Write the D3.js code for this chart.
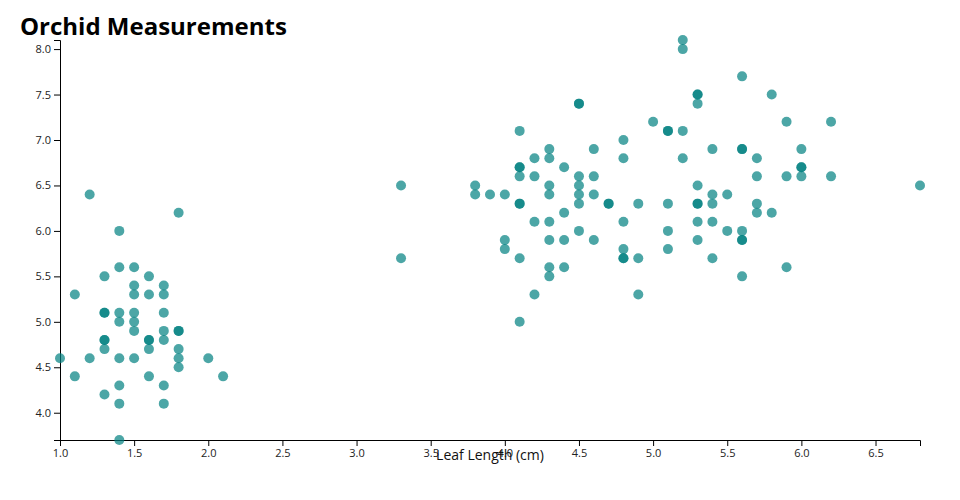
<!DOCTYPE html>
<html>
<head>
<meta charset="utf-8">
<script src="https://cdn.jsdelivr.net/npm/d3@7"></script>
<style>
  body { margin: 0; background: #fff; }
  svg { display: block; font-family: "Open Sans", sans-serif; }
</style>
</head>
<body>
<svg id="chart" width="960" height="500"></svg>
<script>
const title = "Orchid Measurements";
const xLabel = "Leaf Length (cm)";

// leaf length (x) values
const leafLength = [
  // lower-left cluster
  1.4,1.5,1.3,1.6,1.1,1.5,1.5,1.6,1.7,1.7,
  1.3,1.3,1.4,1.5,1.7,1.4,1.5,1.5,1.7,1.8,1.8,
  1.3,1.3,1.6,1.6,1.7,1.3,1.6,1.8,
  1.0,1.2,1.4,1.5,1.8,2.0,1.8,1.1,1.6,2.1,
  1.4,1.7,1.3,1.4,1.7,1.4,1.2,1.4,1.8,
  // upper-right cluster
  3.3,3.3,
  3.8,3.8,3.9,4.0,4.0,4.0,
  4.1,4.1,4.1,4.1,4.1,4.1,4.1,4.1,
  4.2,4.2,4.2,4.2,
  4.3,4.3,4.3,4.3,4.3,4.3,4.3,4.3,
  4.4,4.4,4.4,4.4,
  4.5,4.5,4.5,4.5,4.5,4.5,4.5,
  4.6,4.6,4.6,4.6,
  4.7,4.7,
  4.8,4.8,4.8,4.8,4.8,4.8,
  4.9,4.9,4.9,
  5.0,
  5.1,5.1,5.1,5.1,5.1,
  5.2,5.2,5.2,5.2,
  5.3,5.3,5.3,5.3,5.3,5.3,5.3,5.3,
  5.4,5.4,5.4,5.4,5.4,
  5.5,5.5,
  5.6,5.6,5.6,5.6,5.6,5.6,5.6,
  5.7,5.7,5.7,5.7,
  5.8,5.8,
  5.9,5.9,5.9,
  6.0,6.0,6.0,6.0,
  6.2,6.2,
  6.8
];

// second measurement (y) values, paired with leafLength
const measureY = [
  5.6,5.6,5.5,5.5,5.3,5.4,5.3,5.3,5.4,5.3,
  5.1,5.1,5.1,5.1,5.1,5.0,5.0,4.9,4.9,4.9,4.9,
  4.8,4.8,4.8,4.8,4.8,4.7,4.7,4.7,
  4.6,4.6,4.6,4.6,4.6,4.6,4.5,4.4,4.4,4.4,
  4.3,4.3,4.2,4.1,4.1,3.7,6.4,6.0,6.2,
  6.5,5.7,
  6.5,6.4,6.4,6.4,5.9,5.8,
  7.1,6.7,6.7,6.6,6.3,6.3,5.7,5.0,
  6.8,6.6,6.1,5.3,
  6.9,6.8,6.5,6.4,6.1,5.9,5.6,5.5,
  6.7,6.2,5.9,5.6,
  7.4,7.4,6.6,6.5,6.4,6.3,6.0,
  6.9,6.6,6.4,5.9,
  6.3,6.3,
  7.0,6.8,6.1,5.8,5.7,5.7,
  6.3,5.7,5.3,
  7.2,
  7.1,7.1,6.3,6.0,5.8,
  8.1,8.0,7.1,6.8,
  7.5,7.5,7.4,6.5,6.3,6.3,6.1,5.9,
  6.9,6.4,6.3,6.1,5.7,
  6.4,6.0,
  7.7,6.9,6.9,6.0,5.9,5.9,5.5,
  6.8,6.6,6.3,6.2,
  7.5,6.2,
  7.2,6.6,5.6,
  6.9,6.7,6.7,6.6,
  7.2,6.6,
  6.5
];

const xTicks = [1.0,1.5,2.0,2.5,3.0,3.5,4.0,4.5,5.0,5.5,6.0,6.5];
const yTicks = [4.0,4.5,5.0,5.5,6.0,6.5,7.0,7.5,8.0];

const points = leafLength.map((v, i) => ({x: v, y: measureY[i]}));

const svg = d3.select("#chart");
const margin = {top: 40, right: 40, bottom: 60, left: 60};
const width = 960, height = 500;

const x = d3.scaleLinear().domain([1.0, 6.8]).range([margin.left, width - margin.right]);
const y = d3.scaleLinear().domain([3.7, 8.1]).range([height - margin.bottom, margin.top]);

svg.append("g")
  .attr("transform", `translate(0,${height - margin.bottom})`)
  .call(d3.axisBottom(x).tickValues(xTicks).tickFormat(d3.format(".1f")))
  .call(g => g.selectAll("text").attr("font-size", 11).attr("font-family", "Open Sans, sans-serif").attr("fill", "#222"));

svg.append("g")
  .attr("transform", `translate(${margin.left},0)`)
  .call(d3.axisLeft(y).tickValues(yTicks).tickFormat(d3.format(".1f")))
  .call(g => g.selectAll("text").attr("font-size", 11).attr("font-family", "Open Sans, sans-serif").attr("fill", "#222"));

svg.append("g")
  .selectAll("circle")
  .data(points)
  .join("circle")
  .attr("cx", d => x(d.x))
  .attr("cy", d => y(d.y))
  .attr("r", 5)
  .attr("fill", "teal")
  .attr("fill-opacity", 0.7);

svg.append("text")
  .attr("x", (margin.left + width - margin.right) / 2)
  .attr("y", 460)
  .attr("text-anchor", "middle")
  .attr("font-size", 14)
  .attr("fill", "#111")
  .text(xLabel);

svg.append("text")
  .attr("x", 20)
  .attr("y", 35)
  .attr("font-size", 24)
  .attr("font-weight", "bold")
  .attr("fill", "#000")
  .text(title);
</script>
</body>
</html>
